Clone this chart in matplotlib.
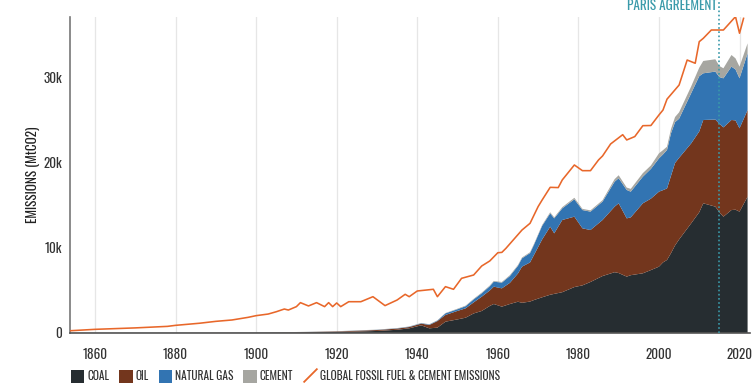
import matplotlib
matplotlib.use("Agg")
import matplotlib.pyplot as plt
from matplotlib.patches import Patch
from matplotlib.lines import Line2D

# --- data (MtCO2) ---
years = [1854, 1870, 1890, 1900, 1910, 1920, 1930, 1935, 1938, 1941, 1943, 1945,
         1947, 1950, 1952, 1954, 1956, 1958, 1959, 1961, 1963, 1965, 1966, 1968,
         1969, 1971, 1973, 1974, 1976, 1979, 1981, 1983, 1986, 1989, 1990, 1992,
         1993, 1996, 1998, 2000, 2001, 2002, 2003, 2004, 2005, 2008, 2010, 2011,
         2014, 2015, 2016, 2018, 2019, 2020, 2022]
coal = [0, 5, 15, 30, 60, 120, 240, 380, 550, 900, 550, 630,
        1330, 1600, 1800, 2300, 2590, 3180, 3410, 3100, 3410, 3680, 3550, 3700,
        3880, 4200, 4500, 4600, 4800, 5400, 5600, 6000, 6700, 7150, 7050, 6630,
        6800, 7020, 7400, 7800, 8300, 8590, 9400, 10300, 11000, 12900, 14200, 15250,
        14860, 14200, 13680, 14460, 14500, 14270, 16030]
oil = [0, 0, 5, 10, 30, 60, 110, 140, 150, 200, 390, 770,
       790, 1000, 1100, 1300, 1680, 1820, 2040, 2150, 2490, 3320, 4250, 4600,
       5320, 6800, 8000, 7120, 8490, 8280, 6710, 6110, 6590, 7710, 8200, 6850,
       6800, 8230, 8400, 8820, 8500, 8410, 9100, 9700, 9600, 9400, 9500, 9800,
       10240, 10400, 10500, 10590, 10500, 9800, 10190]
natural_gas = [0, 0, 0, 5, 5, 10, 20, 30, 40, 50, 60, 60,
               190, 200, 250, 350, 400, 500, 590, 670, 800, 900, 980, 1100,
               1200, 1600, 1570, 1760, 1370, 2040, 2150, 2160, 2160, 2940, 2950, 3340,
               3020, 3130, 3500, 3910, 4200, 4520, 5000, 4800, 4600, 5900, 6500, 5490,
               5640, 5500, 5770, 6270, 6000, 5880, 6670]
cement = [30, 35, 30, 15, 25, 20, 30, 30, 30, 30, 30, 30,
          40, 60, 70, 70, 80, 80, 80, 80, 100, 100, 100, 100,
          100, 100, 130, 120, 140, 180, 140, 150, 170, 300, 350, 280,
          330, 420, 400, 600, 500, 390, 500, 600, 750, 800, 1000, 1450,
          1450, 1300, 1180, 1370, 1300, 1370, 1170]

line_years = [1854, 1860, 1870, 1878, 1880, 1886, 1890, 1894, 1898, 1900, 1903,
              1905, 1907, 1908, 1910, 1911, 1913, 1915, 1917, 1918, 1919, 1920,
              1921, 1923, 1926, 1929, 1932, 1935, 1937, 1938, 1940, 1944, 1945,
              1947, 1949, 1951, 1954, 1956, 1958, 1960, 1961, 1962, 1966, 1968,
              1970, 1971, 1973, 1975, 1976, 1979, 1981, 1983, 1985, 1986, 1988,
              1991, 1992, 1994, 1996, 1998, 2000, 2001, 2002, 2005, 2007, 2009,
              2010, 2011, 2013, 2016, 2019, 2020, 2021]
total_emissions = [270, 430, 600, 780, 900, 1150, 1370, 1530, 1840, 2040, 2230,
                   2500, 2820, 2700, 3100, 3570, 3180, 3570, 3100, 3570, 3100, 3530,
                   3100, 3680, 3680, 4270, 3220, 3880, 4550, 4270, 4940, 5140, 4270,
                   5450, 5140, 6430, 6820, 7880, 8470, 9440, 9480, 9950, 12110, 12900,
                   14860, 15640, 17130, 17100, 18000, 19760, 19090, 19090, 20350, 20820, 22230,
                   23320, 22700, 23100, 24380, 24400, 25640, 26220, 27500, 29160, 32100, 31720,
                   34260, 34650, 35630, 35630, 37200, 35250, 37000]

x_ticks = [1860, 1880, 1900, 1920, 1940, 1960, 1980, 2000, 2020]
y_ticks = [0, 10000, 20000, 30000]
y_tick_labels = ["0", "10k", "20k", "30k"]
paris_year = 2015

colors = {"coal": "#262d31", "oil": "#73361d", "gas": "#3274b2",
          "cement": "#a6a6a1", "line": "#e8672a", "paris": "#3a9aaa"}

plt.rcParams["font.family"] = ["Oswald", "DejaVu Sans"]
text_color = "#333333"

fig = plt.figure(figsize=(7.56, 3.83), dpi=100)
ax = fig.add_axes([70 / 756, 50 / 383, 680 / 756, 316 / 383])

ax.stackplot(years, coal, oil, natural_gas, cement,
             colors=[colors["coal"], colors["oil"], colors["gas"], colors["cement"]],
             linewidth=0, zorder=2)
ax.plot(line_years, total_emissions, color=colors["line"], linewidth=1.15, zorder=3)

ax.axvline(paris_year, color=colors["paris"], linestyle=(0, (1, 1.5)), linewidth=1.2,
           zorder=4, clip_on=False, ymax=1.06)
ax.text(paris_year - 0.6, 37160 * 1.035, "PARIS AGREEMENT", color=colors["paris"],
        ha="right", va="center", fontsize=9.5)

ax.set_xlim(1853.8, 2022.6)
ax.set_ylim(0, 37160)
ax.set_xticks(x_ticks)
ax.set_yticks(y_ticks)
ax.set_yticklabels(y_tick_labels)
ax.tick_params(length=0, labelsize=9.5, colors=text_color, pad=6)
ax.tick_params(axis="x", pad=10.5)
ax.grid(axis="x", color="#e6e6e6", linewidth=0.9, zorder=0)
ax.set_axisbelow(True)

for side in ["top", "right"]:
    ax.spines[side].set_visible(False)
ax.spines["left"].set_color("#777777")
ax.spines["left"].set_linewidth(1.2)
ax.spines["bottom"].set_color("#555555")
ax.spines["bottom"].set_linewidth(1.2)

ax.set_ylabel("EMISSIONS (MtCO2)", fontsize=9.5, color="#222222", labelpad=2)

handles = [
    Patch(facecolor=colors["coal"], label="COAL"),
    Patch(facecolor=colors["oil"], label="OIL"),
    Patch(facecolor=colors["gas"], label="NATURAL GAS"),
    Patch(facecolor=colors["cement"], label="CEMENT"),
    Line2D([], [], linestyle="none", marker=[(-1, -1), (1, 1)], markersize=10,
           markeredgecolor=colors["line"], markeredgewidth=1.3,
           label="GLOBAL FOSSIL FUEL & CEMENT EMISSIONS"),
]
leg = fig.legend(handles=handles, loc="lower left", bbox_to_anchor=(61 / 756, -0.026),
                 ncol=5, frameon=False, fontsize=8.2, handlelength=1.15,
                 handleheight=1.3, handletextpad=0.3, columnspacing=0.85)
for t in leg.get_texts():
    t.set_color(text_color)

fig.savefig("out.png", dpi=100)
